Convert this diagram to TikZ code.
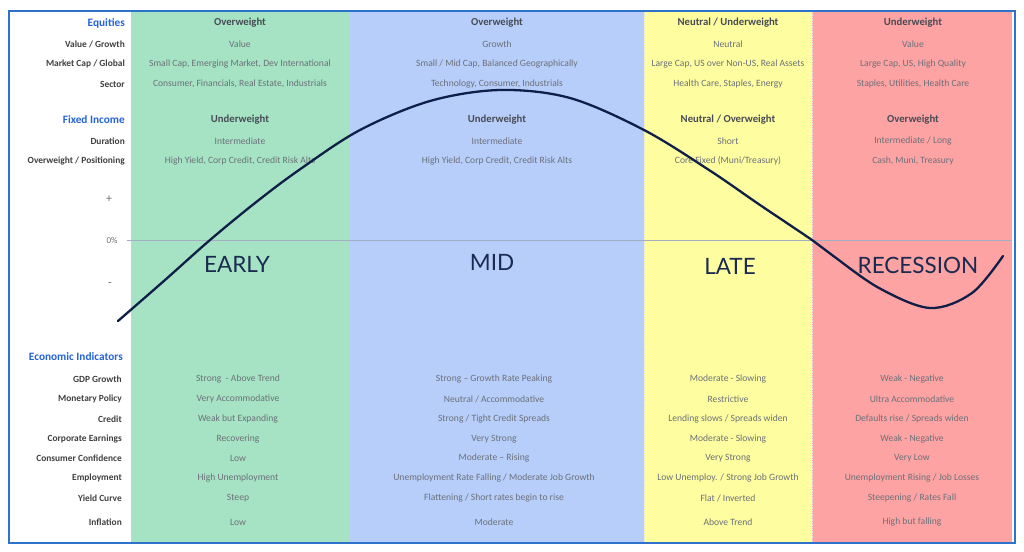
\documentclass[tikz,border=0pt]{standalone}
\usepackage{fontspec}
\setmainfont{Carlito}
\newfontfamily\phasefont{Lato}
\definecolor{colgreen}{HTML}{A6E3C4}
\definecolor{colblue}{HTML}{B7CEFA}
\definecolor{colyellow}{HTML}{FEFDA0}
\definecolor{colred}{HTML}{FEA3A3}
\definecolor{framecol}{HTML}{2E72CC}
\definecolor{labgray}{HTML}{404040}
\definecolor{headgray}{HTML}{474B55}
\definecolor{valgray}{HTML}{6B7079}
\definecolor{secblue}{HTML}{2563D8}
\definecolor{curvecol}{HTML}{0F1F48}
\definecolor{phasecol}{HTML}{1A2A50}
\definecolor{zerocol}{HTML}{A3AEC2}
\begin{document}
\begin{tikzpicture}[x=1pt,y=-1pt,
  lab/.style={anchor=east,inner sep=0pt,text=labgray,font=\fontsize{9.4}{10}\selectfont\bfseries},
  sec/.style={anchor=east,inner sep=0pt,text=secblue,font=\fontsize{11.3}{12}\selectfont\bfseries},
  hd/.style={inner sep=0pt,text=headgray,font=\fontsize{10.7}{12}\selectfont\bfseries},
  val/.style={inner sep=0pt,text=valgray,font=\fontsize{9.6}{10}\selectfont},
  axl/.style={inner sep=0pt,text=valgray,font=\fontsize{9}{10}\selectfont},
  phase/.style={inner sep=0pt,text=phasecol,font=\phasefont\fontsize{22.5}{24}\selectfont}]
\useasboundingbox (0,0) rectangle (1024,551);
\fill[white] (0,0) rectangle (1024,551);
% columns
\fill[colgreen] (131,12) rectangle (349,542);
\fill[colblue] (349,12) rectangle (644,542);
\fill[colyellow] (644,12) rectangle (812,542);
\fill[colred] (812,12) rectangle (1012,542);
\draw[white!80!gray,densely dotted,line width=0.7pt] (644,12) -- (644,542);
\draw[white!80!gray,densely dotted,line width=0.7pt] (812,12) -- (812,542);
% zero line
\draw[zerocol,line width=0.8pt] (127,240) -- (1012,240);
% frame
\draw[framecol,line width=1.8pt] (9,11) rectangle (1015,543);

% left labels
\node[sec] (eq) at (125,23) {Equities};
\node[lab] (vg) at (125,44) {Value / Growth};
\node[lab] (mc) at (125,64) {Market Cap / Global};
\node[lab] (se) at (125,84) {Sector};
\node[sec] (fi) at (125,120) {Fixed Income};
\node[lab] (du) at (125,141) {Duration};
\node[lab] (op) at (125,161) {Overweight / Positioning};
\node[sec] (ei) at (123,357) {Economic Indicators};
\node[lab] (gdp) at (122,379) {GDP Growth};
\node[lab] (mp) at (122,399) {Monetary Policy};
\node[lab] (cr) at (122,419) {Credit};
\node[lab] (ce) at (122,439) {Corporate Earnings};
\node[lab] (cc) at (122,458) {Consumer Confidence};
\node[lab] (em) at (122,478) {Employment};
\node[lab] (yc) at (122,498) {Yield Curve};
\node[lab] (inf) at (122,522) {Inflation};
% axis marks
\node[axl,font=\fontsize{12}{12}\selectfont] (plus) at (109,199) {+};
\node[axl] (zero) at (112,240) {0\%};
\node[axl,font=\fontsize{12}{12}\selectfont] (minus) at (110,285) {-};

% EARLY column
\node[hd] (g1) at (240,23) {Overweight};
\node[val] (g2) at (240,44) {Value};
\node[val] (g3) at (240,64) {Small Cap, Emerging Market, Dev International};
\node[val] (g4) at (240,84) {Consumer, Financials, Real Estate, Industrials};
\node[hd] (g5) at (240,120) {Underweight};
\node[val] (g6) at (240,141) {Intermediate};
\node[val] (g7) at (240,161) {High Yield, Corp Credit, Credit Risk Alts};
\node[val] (g8) at (238,379) {Strong\ \ - Above Trend};
\node[val] (g9) at (238,399) {Very Accommodative};
\node[val] (g10) at (238,419) {Weak but Expanding};
\node[val] (g11) at (238,439) {Recovering};
\node[val] (g12) at (238,458) {Low};
\node[val] (g13) at (238,478) {High Unemployment};
\node[val] (g14) at (238,498) {Steep};
\node[val] (g15) at (238,522) {Low};

% MID column
\node[hd] (b1) at (497,23) {Overweight};
\node[val] (b2) at (497,44) {Growth};
\node[val] (b3) at (497,64) {Small / Mid Cap, Balanced Geographically};
\node[val] (b4) at (497,84) {Technology, Consumer, Industrials};
\node[hd] (b5) at (497,120) {Underweight};
\node[val] (b6) at (497,141) {Intermediate};
\node[val] (b7) at (497,161) {High Yield, Corp Credit, Credit Risk Alts};
\node[val] (b8) at (494,379) {Strong -- Growth Rate Peaking};
\node[val] (b9) at (494,399) {Neutral / Accommodative};
\node[val] (b10) at (494,419) {Strong / Tight Credit Spreads};
\node[val] (b11) at (494,439) {Very Strong};
\node[val] (b12) at (494,458) {Moderate -- Rising};
\node[val] (b13) at (494,478) {Unemployment Rate Falling / Moderate Job Growth};
\node[val] (b14) at (494,498) {Flattening / Short rates begin to rise};
\node[val] (b15) at (494,522) {Moderate};

% LATE column
\node[hd] (y1) at (728,23) {Neutral / Underweight};
\node[val] (y2) at (728,44) {Neutral};
\node[val] (y3) at (728,64) {Large Cap, US over Non-US, Real Assets};
\node[val] (y4) at (728,84) {Health Care, Staples, Energy};
\node[hd] (y5) at (728,120) {Neutral / Overweight};
\node[val] (y6) at (728,141) {Short};
\node[val] (y7) at (728,161) {Core Fixed (Muni/Treasury)};
\node[val] (y8) at (728,379) {Moderate - Slowing};
\node[val] (y9) at (728,399) {Restrictive};
\node[val] (y10) at (728,419) {Lending slows / Spreads widen};
\node[val] (y11) at (728,439) {Moderate - Slowing};
\node[val] (y12) at (728,458) {Very Strong};
\node[val] (y13) at (728,478) {Low Unemploy. / Strong Job Growth};
\node[val] (y14) at (728,498) {Flat / Inverted};
\node[val] (y15) at (728,522) {Above Trend};

% RECESSION column
\node[hd] (r1) at (913,23) {Underweight};
\node[val] (r2) at (913,44) {Value};
\node[val] (r3) at (913,64) {Large Cap, US, High Quality};
\node[val] (r4) at (913,84) {Staples, Utilities, Health Care};
\node[hd] (r5) at (913,120) {Overweight};
\node[val] (r6) at (913,141) {Intermediate / Long};
\node[val] (r7) at (913,161) {Cash, Muni, Treasury};
\node[val] (r8) at (912,379) {Weak - Negative};
\node[val] (r9) at (912,399) {Ultra Accommodative};
\node[val] (r10) at (912,419) {Defaults rise / Spreads widen};
\node[val] (r11) at (912,439) {Weak - Negative};
\node[val] (r12) at (912,458) {Very Low};
\node[val] (r13) at (912,478) {Unemployment Rising / Job Losses};
\node[val] (r14) at (912,498) {Steepening / Rates Fall};
\node[val] (r15) at (912,522) {High but falling};

% phase labels
\node[phase] (early) at (237,264) {EARLY};
\node[phase] (mid) at (492,262) {MID};
\node[phase] (late) at (730,266) {LATE};
\node[phase] (rec) at (918,265) {RECESSION};

% business cycle curve
\draw[curvecol,line width=2.3pt,line cap=round] plot[smooth,tension=0.55] coordinates {
 (118,321) (165,280) (210,240) (255,203) (299,170) (360,130) (430,101) (500,90)
 (570,98) (644,130) (709,170) (760,205) (812,240) (832,255) (879,288) (930,308)
 (972,293) (1003,256)};
\end{tikzpicture}
\end{document}
